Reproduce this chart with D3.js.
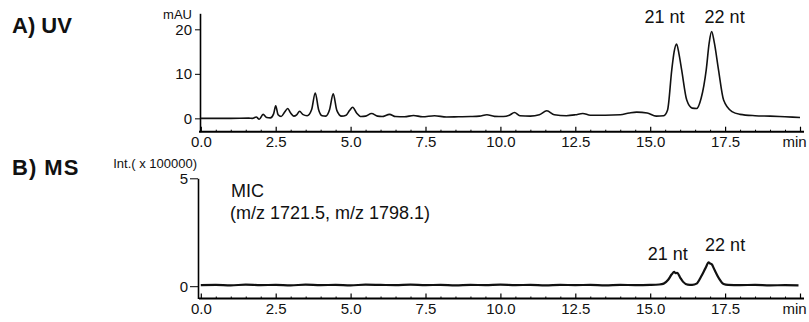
<!DOCTYPE html>
<html><head><meta charset="utf-8">
<script src="https://cdn.jsdelivr.net/npm/d3@7"></script>
<style>
html,body{margin:0;padding:0;background:#fff;}
svg{display:block;font-family:"Liberation Sans",Arial,sans-serif;}
</style></head>
<body><svg id="c" width="809" height="322"></svg>
<script>
// ---------- data ----------
const xTicks = [0, 2.5, 5, 7.5, 10, 12.5, 15, 17.5, 20];
const xTickLabels = ["0.0","2.5","5.0","7.5","10.0","12.5","15.0","17.5","min"];
const uvTicks = [0, 10, 20];
const msTicks = [0, 5];

// UV trace: time (min) and absorbance (mAU)
const uvTime = [0,1.0,1.6,1.72,1.85,1.95,2.08,2.2,2.32,2.43,2.5,2.58,2.68,2.8,2.9,3.0,3.1,3.2,3.3,3.4,3.55,3.7,3.82,3.93,4.05,4.17,4.3,4.42,4.54,4.7,4.85,4.97,5.07,5.2,5.35,5.5,5.7,5.9,6.05,6.3,6.5,6.8,7.1,7.4,7.8,8.2,8.6,9.0,9.3,9.55,9.8,10.1,10.3,10.47,10.65,11.0,11.3,11.55,11.8,12.2,12.5,12.75,13.0,13.5,14.0,14.3,14.55,14.9,15.2,15.45,15.58,15.72,15.8,15.88,15.96,16.05,16.22,16.4,16.55,16.7,16.87,16.97,17.05,17.14,17.28,17.45,17.73,18.0,18.5,19.0,19.5,20.0];
const uvValue = [0,0,0.05,0.0,0.3,-0.2,0.9,0.2,0.1,1.0,2.8,0.8,0.4,1.4,2.2,1.2,0.5,0.8,1.6,0.9,0.6,2.0,5.7,2.0,0.6,0.5,2.0,5.5,1.8,0.5,0.7,1.8,2.5,1.2,0.4,0.5,1.1,0.5,0.4,0.9,0.4,0.35,0.65,0.35,0.6,0.3,0.35,0.4,0.5,0.8,0.45,0.4,0.7,1.3,0.6,0.5,0.8,1.7,0.8,0.6,0.8,1.1,0.7,0.7,0.8,1.2,1.4,1.2,0.5,0.6,1.9,10.9,15.0,16.7,14.5,10.9,4.1,2.3,2.2,4.5,10.9,17.0,19.5,17.0,10.9,4.1,1.5,0.9,0.6,0.5,0.35,0.2];

// MS trace: time (min) and intensity (x 100000)
const msTime = [0,0.5,1.0,1.5,2.0,2.5,3.0,3.5,4.0,4.5,5.0,5.5,6.0,6.5,7.0,7.5,8.0,8.5,9.0,9.5,10.0,10.5,11.0,11.5,12.0,12.5,13.0,13.5,14.0,14.5,15.0,15.3,15.45,15.6,15.72,15.8,15.85,15.9,16.0,16.1,16.25,16.4,16.55,16.7,16.85,16.95,17.0,17.05,17.15,17.3,17.45,17.6,18.0,18.5,19.0,19.5,19.95];
const msValue = [0.05,0.06,0.04,0.07,0.05,0.06,0.04,0.07,0.05,0.06,0.04,0.07,0.06,0.05,0.07,0.05,0.06,0.04,0.06,0.05,0.07,0.05,0.06,0.04,0.06,0.05,0.06,0.04,0.06,0.05,0.06,0.08,0.12,0.3,0.55,0.66,0.6,0.62,0.4,0.2,0.07,0.06,0.12,0.45,0.85,1.1,1.05,1.02,0.75,0.35,0.1,0.06,0.05,0.06,0.04,0.05,0.04];

// ---------- drawing ----------
const svg = d3.select("#c");
const x = d3.scaleLinear().domain([0, 20]).range([200.8, 800]);
const minorTicks = d3.range(0, 20.01, 0.5).filter(v => xTicks.indexOf(v) < 0);
const fmtX = d => xTickLabels[xTicks.indexOf(d)];
const FONT = "Liberation Sans, Arial, sans-serif";

function xAxis(g, y) {
  g.attr("transform", `translate(0,${y})`)
    .call(d3.axisBottom(x).tickValues(xTicks).tickFormat(fmtX).tickSizeInner(-5).tickSizeOuter(0).tickPadding(5))
    .call(s => s.select(".domain").attr("stroke-width", 2).attr("d", `M199,0H804`))
    .call(s => s.selectAll(".tick line").attr("stroke-width", 1.2))
    .call(s => s.selectAll(".tick text").attr("font-size", 15).attr("fill", "#111").attr("font-family", FONT)
      .attr("dx", d => d === 20 ? -6 : 0));
  g.append("g")
    .call(d3.axisBottom(x).tickValues(minorTicks).tickFormat("").tickSizeInner(-2).tickSizeOuter(0))
    .call(s => s.select(".domain").remove());
}

// Panel A
const yA = d3.scaleLinear().domain([-3, 23.6]).range([131.7, 13.3]);
svg.append("g").call(g => xAxis(g, 131.7));
svg.append("g").attr("transform", "translate(200,0)")
  .call(d3.axisLeft(yA).tickValues(uvTicks).tickFormat(d3.format("d")).tickSizeInner(5).tickSizeOuter(0).tickPadding(3))
  .call(s => s.select(".domain").attr("stroke-width", 1.6))
  .call(s => s.selectAll(".tick text").attr("font-size", 15).attr("fill", "#111").attr("font-family", FONT));

const uvLine = d3.line().x((d, i) => x(uvTime[i])).y(d => yA(d)).curve(d3.curveMonotoneX);
svg.append("path").attr("d", uvLine(uvValue)).attr("fill", "none").attr("stroke", "#111").attr("stroke-width", 1.6);

svg.append("text").attr("x", 12).attr("y", 33).attr("font-size", 22).attr("font-weight", "bold").attr("fill", "#111").text("A) UV");
svg.append("text").attr("x", 192).attr("y", 19).attr("text-anchor", "end").attr("font-size", 13).attr("fill", "#111").text("mAU");
svg.append("text").attr("x", x(15.88) - 12).attr("y", 23).attr("text-anchor", "middle").attr("font-size", 18).attr("fill", "#111").text("21 nt");
svg.append("text").attr("x", x(17.05) + 13).attr("y", 23).attr("text-anchor", "middle").attr("font-size", 18).attr("fill", "#111").text("22 nt");

// Panel B
const yB = d3.scaleLinear().domain([-0.57, 5]).range([298.5, 178.3]);
svg.append("g").call(g => xAxis(g, 298.5));
svg.append("g").attr("transform", "translate(198,0)")
  .call(d3.axisLeft(yB).tickValues(msTicks).tickFormat(d3.format("d")).tickSizeInner(8).tickSizeOuter(0).tickPadding(2))
  .call(s => s.select(".domain").attr("stroke-width", 1.6))
  .call(s => s.selectAll(".tick text").attr("font-size", 15).attr("fill", "#111").attr("font-family", FONT));

const msLine = d3.line().x((d, i) => x(msTime[i])).y(d => yB(d)).curve(d3.curveMonotoneX);
svg.append("path").attr("d", msLine(msValue)).attr("fill", "none").attr("stroke", "#111").attr("stroke-width", 2.2);

svg.append("text").attr("x", 12).attr("y", 175).attr("font-size", 22).attr("font-weight", "bold").attr("letter-spacing", 1).attr("fill", "#111").text("B) MS");
svg.append("text").attr("x", 197).attr("y", 168).attr("text-anchor", "end").attr("font-size", 13).attr("fill", "#111").text("Int.( x 100000)");
svg.append("text").attr("x", 231).attr("y", 197).attr("font-size", 18).attr("fill", "#111").text("MIC");
svg.append("text").attr("x", 230).attr("y", 219).attr("font-size", 18).attr("fill", "#111").text("(m/z 1721.5, m/z 1798.1)");
svg.append("text").attr("x", x(15.85) - 8).attr("y", 260).attr("text-anchor", "middle").attr("font-size", 18).attr("fill", "#111").text("21 nt");
svg.append("text").attr("x", x(17.0) + 15).attr("y", 251).attr("text-anchor", "middle").attr("font-size", 18).attr("fill", "#111").text("22 nt");
</script></body></html>
